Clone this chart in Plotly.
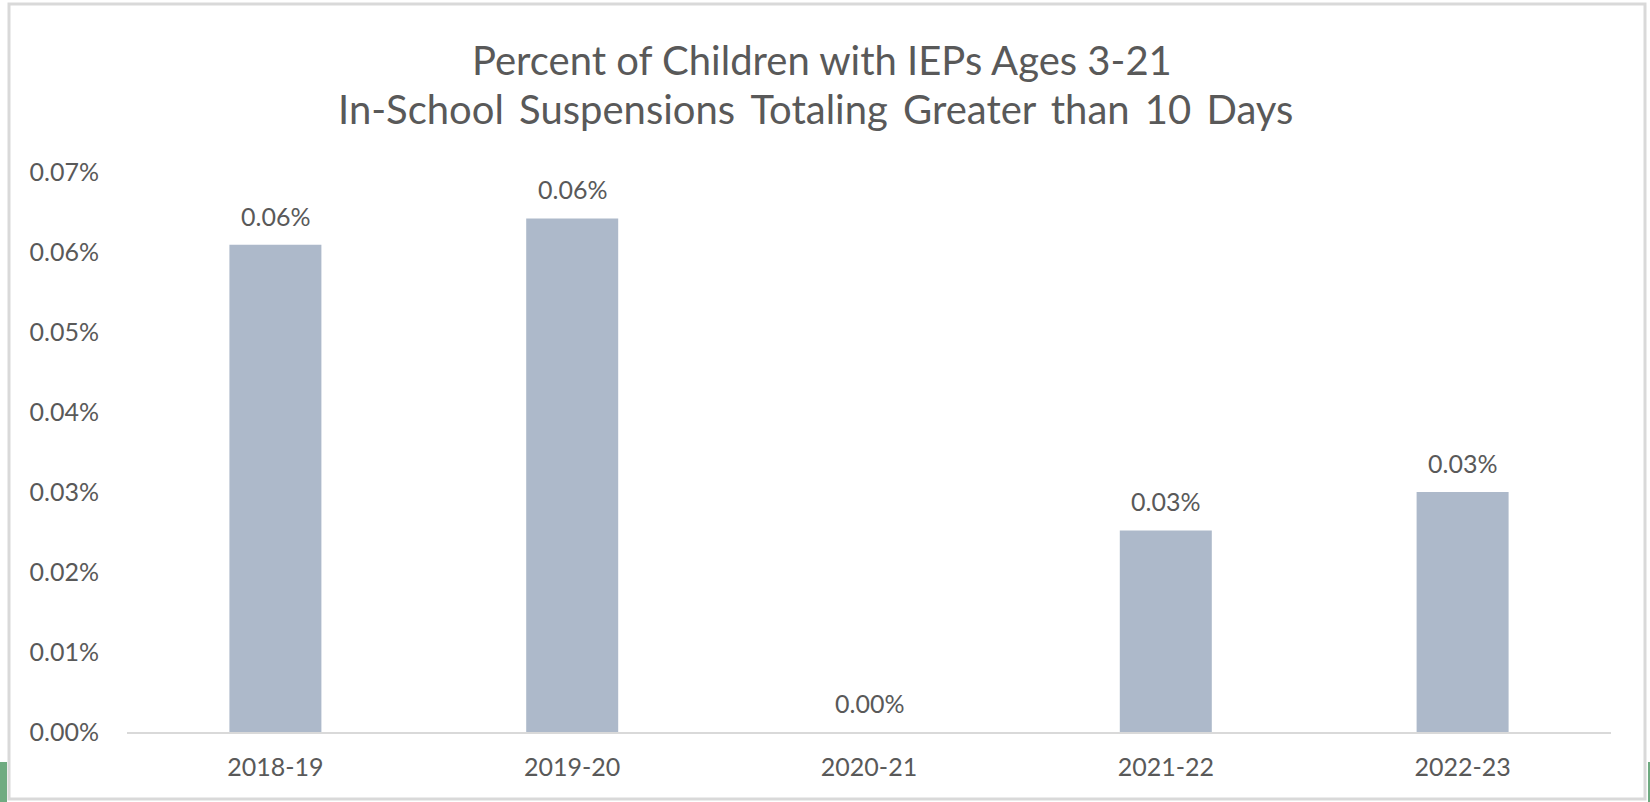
import plotly.graph_objects as go

categories = ["2018-19", "2019-20", "2020-21", "2021-22", "2022-23"]
values = [0.0609, 0.0642, 0.0, 0.0252, 0.0300]  # percent
y_ticks = [0.00, 0.01, 0.02, 0.03, 0.04, 0.05, 0.06, 0.07]
title_lines = ["Percent of Children with IEPs Ages 3-21",
               "In-School Suspensions Totaling Greater than 10 Days"]

FONT = "Lato"
TXT = "#595959"
W, H = 1650, 802
ML, MR, MT, MB = 127, 39, 172, 70
PW, PH = W - ML - MR, H - MT - MB

def px_x(p):
    return (p - ML) / PW

def px_y(p):
    return (H - MB - p) / PH

fig = go.Figure()
fig.add_trace(go.Bar(
    x=categories, y=values,
    marker=dict(color="#ADB9CA", line=dict(width=0)),
    width=0.31,
    hoverinfo="skip",
))

annotations = []
for c, v in zip(categories, values):
    annotations.append(dict(
        x=c, y=v, xref="x", yref="y", text=f"{v:.2f}%", showarrow=False,
        yanchor="middle", yshift=29, font=dict(family=FONT, size=25, color=TXT)))
annotations.append(dict(x=px_x(822), y=px_y(60), xref="paper", yref="paper",
                        text=title_lines[0], showarrow=False, xanchor="center", yanchor="middle",
                        font=dict(family=FONT, size=40, color=TXT)))
# the source title's second line has slightly wider word spacing
line2 = title_lines[1].replace(" ", " \u2009")
annotations.append(dict(x=px_x(815), y=px_y(109), xref="paper", yref="paper",
                        text=line2, showarrow=False, xanchor="center", yanchor="middle",
                        font=dict(family=FONT, size=40, color=TXT)))

shapes = [
    # outer frame
    dict(type="rect", xref="paper", yref="paper",
         x0=px_x(9), x1=px_x(1645), y0=px_y(799), y1=px_y(4),
         line=dict(color="#d9d9d9", width=3), fillcolor="rgba(0,0,0,0)", layer="below"),
    # green slide edges
    dict(type="rect", xref="paper", yref="paper",
         x0=px_x(0), x1=px_x(7), y0=px_y(802), y1=px_y(762),
         line=dict(width=0), fillcolor="#6fab81", layer="above"),
    dict(type="rect", xref="paper", yref="paper",
         x0=px_x(1648), x1=px_x(1650), y0=px_y(802), y1=px_y(762),
         line=dict(width=0), fillcolor="#6fab81", layer="above"),
]

fig.update_layout(
    width=W, height=H,
    margin=dict(l=ML, r=MR, t=MT, b=MB, autoexpand=False),
    paper_bgcolor="white", plot_bgcolor="white",
    showlegend=False,
    annotations=annotations,
    shapes=shapes,
    xaxis=dict(
        type="category", showgrid=False, showline=True, linecolor="#d9d9d9", linewidth=2,
        ticks="", tickfont=dict(family=FONT, size=25, color=TXT), ticklabelstandoff=12,
        zeroline=False, fixedrange=True,
    ),
    yaxis=dict(
        range=[0, 0.07], tickvals=y_ticks, ticktext=[f"{t:.2f}%" for t in y_ticks],
        showgrid=False, showline=False, zeroline=False,
        ticks="", tickfont=dict(family=FONT, size=25, color=TXT), ticklabelstandoff=27,
        fixedrange=True,
    ),
)

fig.write_html("out.html", config={"displayModeBar": False})
